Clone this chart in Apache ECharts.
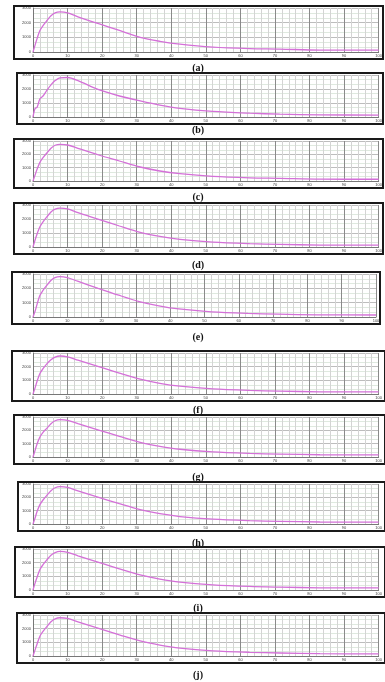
<!DOCTYPE html>
<html><head><meta charset="utf-8">
<script src="https://cdn.jsdelivr.net/npm/echarts@6/dist/echarts.min.js"></script>
<style>html,body{margin:0;padding:0;background:#fff}#c{width:385px;height:682px}</style>
</head><body><div id="c"></div>
<script>
// shared x positions (time units, 0..100)
const xValues = [0,0.6,1.2,2,2.9,4,5.2,6.4,7.8,10,13,19,25,31,36.7,42.5,52,62.7,71.4,83,100];
const xTicks = ['0','10','20','30','40','50','60','70','80','90','100'];
const yTicks = ['0','1000','2000','3000'];
const panelLabels = ['(a)','(b)','(c)','(d)','(e)','(f)','(g)','(h)','(i)','(j)'];
const seriesA = [0,0.47,0.93,1.47,1.8,2.13,2.47,2.67,2.73,2.67,2.4,1.93,1.47,1.0,0.73,0.53,0.33,0.23,0.2,0.13,0.13];
const seriesB = [0,0.6,0.7,1.3,1.5,1.9,2.3,2.6,2.8,2.82,2.6,1.95,1.5,1.15,0.85,0.62,0.4,0.27,0.2,0.15,0.14];
const seriesC = [0,0.45,0.9,1.4,1.75,2.1,2.45,2.68,2.75,2.7,2.45,1.95,1.5,1.05,0.75,0.55,0.35,0.24,0.2,0.14,0.13];
const seriesD = [0,0.5,0.95,1.45,1.8,2.15,2.5,2.7,2.78,2.72,2.45,1.98,1.5,1.05,0.76,0.55,0.35,0.24,0.19,0.14,0.13];
const seriesE = [0,0.4,0.9,1.5,1.85,2.2,2.55,2.75,2.82,2.75,2.5,2.0,1.52,1.08,0.78,0.56,0.36,0.25,0.2,0.15,0.14];
const seriesF = [0,0.45,0.95,1.5,1.85,2.2,2.5,2.7,2.78,2.72,2.48,2.0,1.52,1.08,0.78,0.57,0.37,0.26,0.21,0.16,0.15];
const seriesG = [0,0.5,1.0,1.5,1.85,2.15,2.5,2.72,2.8,2.75,2.5,2.02,1.55,1.1,0.8,0.58,0.38,0.27,0.22,0.17,0.16];
const seriesH = [0,0.45,0.95,1.45,1.8,2.15,2.5,2.72,2.8,2.74,2.48,2.0,1.52,1.07,0.77,0.56,0.36,0.25,0.2,0.15,0.14];
const seriesI = [0,0.5,0.95,1.5,1.85,2.2,2.55,2.74,2.82,2.76,2.5,2.02,1.54,1.1,0.8,0.58,0.38,0.26,0.21,0.16,0.15];
const seriesJ = [0,0.45,0.9,1.45,1.8,2.15,2.5,2.72,2.8,2.75,2.5,2.02,1.55,1.1,0.8,0.58,0.38,0.27,0.22,0.17,0.16];
const allSeries = [seriesA,seriesB,seriesC,seriesD,seriesE,seriesF,seriesG,seriesH,seriesI,seriesJ];

// layout: outer box [left, top, right, bottom] and label y
const boxes = [[14,6,383,59],[17,73,383,124],[14,139,383,188],[14,203,383,254],[12,272,380,324],
               [12,351,385,401],[14,415,385,464],[18,482,385,531],[15,547,385,597],[17,613,385,663]];
const labelY = [68,130,197,265,337,410,477,543,608,675];

const chart = echarts.init(document.getElementById('c'), null, {renderer:'canvas'});
const grids=[], xAxes=[], yAxes=[], series=[], graphics=[];
boxes.forEach((b,i)=>{
  const top=b[1]+2, bottom=b[3]-7, rightEdge=Math.min(b[2],383)-4;
  grids.push({left:33, top:top, width:rightEdge-33, height:bottom-top, show:true, backgroundColor:'#fff', borderWidth:0});
  xAxes.push({type:'value', gridIndex:i, min:0, max:100, interval:10,
    axisLine:{show:true, lineStyle:{color:'#777', width:1}},
    axisTick:{show:false},
    axisLabel:{show:true, fontSize:4, color:'#444', margin:2, formatter:v=>xTicks[Math.round(v/10)]},
    splitLine:{show:true, lineStyle:{color:'#8a8a8a', width:1}},
    minorTick:{show:false, splitNumber:5},
    minorSplitLine:{show:true, lineStyle:{color:'#d4d4d4', width:1}}
  });
  yAxes.push({type:'value', gridIndex:i, min:0, max:3, interval:1,
    axisLine:{show:true, lineStyle:{color:'#777', width:1}},
    axisTick:{show:false},
    axisLabel:{show:true, fontSize:4, color:'#444', margin:2, formatter:v=>yTicks[Math.round(v)]},
    splitLine:{show:true, lineStyle:{color:'#bdbdbd', width:1}},
    minorTick:{show:false, splitNumber:3},
    minorSplitLine:{show:true, lineStyle:{color:'#dfe9df', width:1}}
  });
  series.push({type:'line', xAxisIndex:i, yAxisIndex:i, data:xValues.map((x,k)=>[x,allSeries[i][k]]),
    smooth:0.3, showSymbol:false, lineStyle:{color:'#d470d8', width:1.3}, silent:true});
  graphics.push({type:'rect', shape:{x:b[0], y:b[1], width:b[2]-b[0], height:b[3]-b[1]},
    style:{fill:'none', stroke:'#1a1a1a', lineWidth:2}, z:100});
  graphics.push({type:'text', x:198, y:labelY[i], style:{text:panelLabels[i], fill:'#111',
    font:'bold 10px "Liberation Serif"', textAlign:'center', textVerticalAlign:'middle'}, z:100});
});
chart.setOption({animation:false, grid:grids, xAxis:xAxes, yAxis:yAxes, series:series, graphic:graphics});
</script></body></html>
